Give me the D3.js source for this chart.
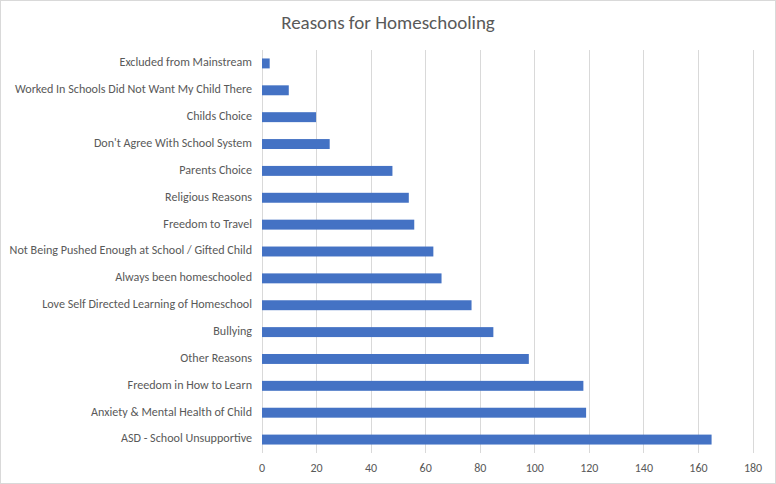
<!DOCTYPE html>
<html><head><meta charset="utf-8">
<script src="https://cdn.jsdelivr.net/npm/d3@7"></script>
<style>body{margin:0;background:#fff}svg{display:block}text{font-family:Carlito,Calibri,"Open Sans",sans-serif}</style>
</head><body>
<script>
const categories = ["Excluded from Mainstream","Worked In Schools Did Not Want My Child There","Childs Choice","Don't Agree With School System","Parents Choice","Religious Reasons","Freedom to Travel","Not Being Pushed Enough at School / Gifted Child","Always been homeschooled","Love Self Directed Learning of Homeschool","Bullying","Other Reasons","Freedom in How to Learn","Anxiety & Mental Health of Child","ASD - School Unsupportive"];
const values = [3,10,20,25,48,54,56,63,66,77,85,98,118,119,165];
const ticks = [0,20,40,60,80,100,120,140,160,180];
const title = "Reasons for Homeschooling";

const W=776,H=484;
const svg=d3.select("body").append("svg").attr("width",W).attr("height",H);
svg.append("rect").attr("x",0.5).attr("y",0.5).attr("width",W-1).attr("height",H-1).attr("fill","#fff").attr("stroke","#d9d9d9");
const x=d3.scaleLinear().domain([0,180]).range([261.5,752.5]);
const y=d3.scaleBand().domain(categories).range([50,453]).paddingInner(0.63).paddingOuter(0.315);
svg.append("text").attr("x",388).attr("y",29).attr("text-anchor","middle").attr("font-size",19).attr("fill","#595959").text(title);
svg.append("g").selectAll("line").data(ticks).join("line")
 .attr("x1",d=>Math.round(x(d))+0.5).attr("x2",d=>Math.round(x(d))+0.5).attr("y1",50).attr("y2",453)
 .attr("stroke","#d9d9d9").attr("stroke-width",1);
svg.append("g").selectAll("rect").data(values).join("rect")
 .attr("x",x(0)+0.5).attr("y",(d,i)=>y(categories[i])).attr("width",d=>x(d)-x(0)-0.5).attr("height",y.bandwidth()).attr("fill","#4472c4");
const xa=d3.axisBottom(x).tickValues(ticks).tickSize(0).tickPadding(0);
const gx=svg.append("g").attr("transform","translate(0,472)").call(xa);
gx.select(".domain").remove();
gx.selectAll("text").attr("font-size",12).attr("fill","#595959").attr("dy",0).attr("font-family","Carlito,Calibri,'Open Sans',sans-serif");
const ya=d3.axisLeft(y).tickSize(0).tickPadding(0);
const gy=svg.append("g").attr("transform","translate(252,-1)").call(ya);
gy.select(".domain").remove();
gy.selectAll("text").attr("font-size",12.1).attr("fill","#595959").attr("font-family","Carlito,Calibri,'Open Sans',sans-serif");
</script>
</body></html>
